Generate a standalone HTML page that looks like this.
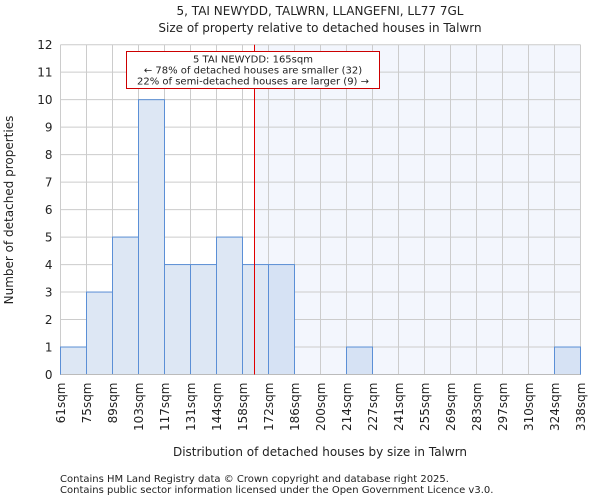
<!DOCTYPE html>
<html><head><meta charset="utf-8"><style>
body{margin:0;background:#fff;font-family:"DejaVu Sans","Liberation Sans",sans-serif}
svg text{font-family:"DejaVu Sans","Liberation Sans",sans-serif;fill:#222}
</style></head><body>
<svg id="c" width="600" height="500">
<text x="320" y="15" font-size="12" text-anchor="middle">5, TAI NEWYDD, TALWRN, LLANGEFNI, LL77 7GL</text>
<text x="320" y="32" font-size="12" text-anchor="middle">Size of property relative to detached houses in Talwrn</text>
<g id="g"></g>
<text x="320" y="456" font-size="12" text-anchor="middle">Distribution of detached houses by size in Talwrn</text>
<text transform="translate(13,210) rotate(-90)" font-size="12" text-anchor="middle">Number of detached properties</text>
<text x="60" y="482" font-size="10" fill="#444">Contains HM Land Registry data © Crown copyright and database right 2025.</text>
<text x="60" y="493" font-size="10" fill="#444">Contains public sector information licensed under the Open Government Licence v3.0.</text>
</svg>
<script>
const binLabels=["61sqm","75sqm","89sqm","103sqm","117sqm","131sqm","144sqm","158sqm","172sqm","186sqm","200sqm","214sqm","227sqm","241sqm","255sqm","269sqm","283sqm","297sqm","310sqm","324sqm","338sqm"];
const counts=[1,3,5,10,4,4,5,4,4,0,0,1,0,0,0,0,0,0,0,1];
const yTicks=[0,1,2,3,4,5,6,7,8,9,10,11,12];
const markerBin=7.46;
const NS="http://www.w3.org/2000/svg",g=document.getElementById('g');
const L=60.5,R=580.5,T=44.7,B=374.5,yMax=12;
const bw=(R-L)/counts.length;
const xs=i=>L+i*bw, ys=v=>B-(B-T)*v/yMax;
function mk(t,a,p){const e=document.createElementNS(NS,t);for(const k in a)e.setAttribute(k,a[k]);(p||g).appendChild(e);return e;}
const mx=Math.round(xs(markerBin))+0.5;
let e=mk('rect',{x:mx,y:T,width:R-mx,height:B-T,fill:'#f3f6fd'});


yTicks.forEach(v=>{let l=mk('line',{x1:L,x2:R,y1:ys(v),y2:ys(v),stroke:'#ccc'});


let t=mk('text',{x:L-8,y:ys(v)+4.5,'font-size':12,'text-anchor':'end'});t.textContent=v;

});
binLabels.forEach((s,i)=>{let l=mk('line',{x1:xs(i),x2:xs(i),y1:T,y2:B,stroke:'#ccc'});


let t=mk('text',{transform:`translate(${xs(i)+4.5},${B+8}) rotate(-90)`,'font-size':12,'text-anchor':'end'});t.textContent=s;

});
counts.forEach((c,i)=>{if(!c)return;let r=mk('rect',{x:xs(i),y:ys(c),width:bw,height:B-ys(c),fill:i>=markerBin?'#d6e2f4':'#dde7f4',stroke:'#5b8fd6','stroke-width':1});

});
let ax=mk('line',{x1:L,x2:R,y1:B,y2:B,stroke:'#bbb'});


let rl=mk('line',{x1:mx,x2:mx,y1:T,y2:B,stroke:'#e00000','stroke-width':1});


let bx=mk('rect',{x:126.5,y:51.5,width:253,height:37,fill:'#fff',stroke:'#c00'});


["5 TAI NEWYDD: 165sqm","← 78% of detached houses are smaller (32)","22% of semi-detached houses are larger (9) →"].forEach((s,i)=>{let t=mk('text',{x:253,y:62.5+i*11,'font-size':10,'text-anchor':'middle'});t.textContent=s;

});
</script>
</body></html>
